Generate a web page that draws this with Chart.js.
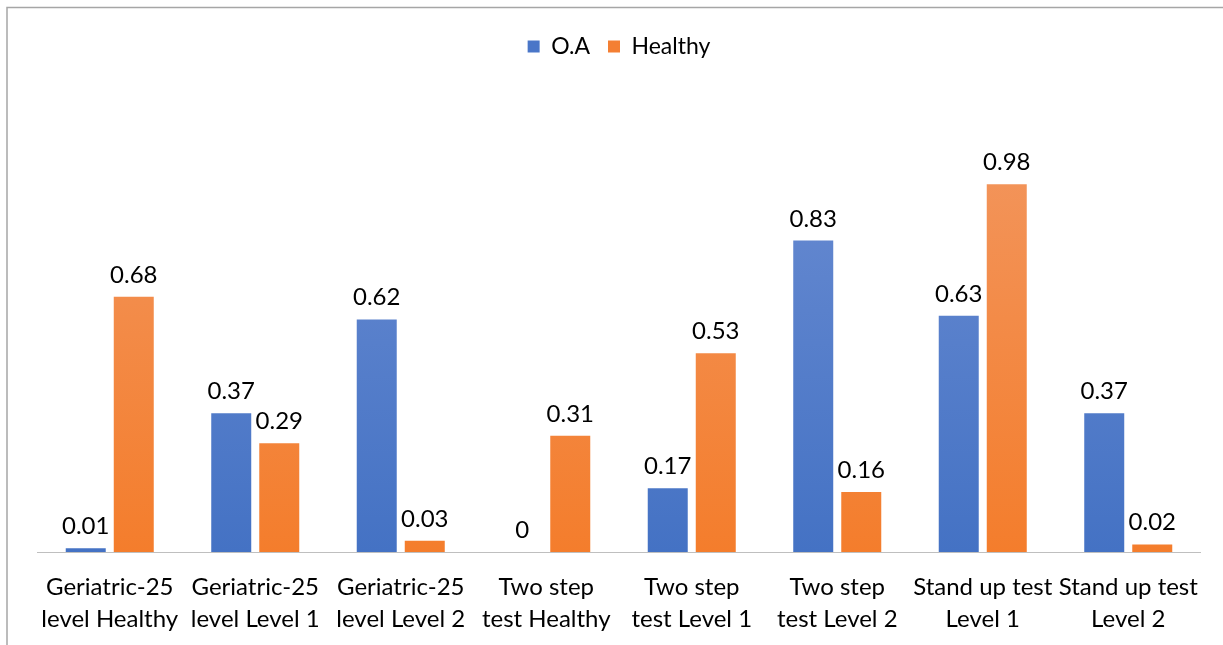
<!DOCTYPE html>
<html>
<head>
<meta charset="utf-8">
<script src="https://cdn.jsdelivr.net/npm/chart.js@4.4.1/dist/chart.umd.min.js"></script>
<style>
  html, body { margin: 0; padding: 0; background: #fff; }
  #wrap { position: relative; width: 1223px; height: 645px; }
</style>
</head>
<body>
<div id="wrap"><canvas id="chart" width="1223" height="645"></canvas></div>
<script>
// Chart data
const categories = [
    ['Geriatric-25', 'level Healthy'],
    ['Geriatric-25', 'level Level 1'],
    ['Geriatric-25', 'level Level 2'],
    ['Two step', 'test Healthy'],
    ['Two step', 'test Level 1'],
    ['Two step', 'test Level 2'],
    ['Stand up test', 'Level 1'],
    ['Stand up test', 'Level 2']
];
const oaValues = [0.01, 0.37, 0.62, 0, 0.17, 0.83, 0.63, 0.37];
const healthyValues = [0.68, 0.29, 0.03, 0.31, 0.53, 0.16, 0.98, 0.02];

const FONT = 'Lato, "Open Sans", sans-serif';

// vertical gradient, lighter at the top of the plot
function gradientFill(top, bottom) {
    return function(context) {
        const chart = context.chart;
        const area = chart.chartArea;
        if (!area) return bottom;
        const g = chart.ctx.createLinearGradient(0, area.top, 0, area.bottom);
        g.addColorStop(0, top);
        g.addColorStop(1, bottom);
        return g;
    };
}

// value labels above each bar
const valueLabels = {
    id: 'valueLabels',
    afterDatasetsDraw(chart) {
        const ctx = chart.ctx;
        ctx.save();
        ctx.font = '24px ' + FONT;
        ctx.fillStyle = '#000';
        ctx.textAlign = 'center';
        ctx.textBaseline = 'alphabetic';
        chart.data.datasets.forEach((ds, i) => {
            chart.getDatasetMeta(i).data.forEach((bar, j) => {
                ctx.fillText(String(ds.data[j]), bar.x, bar.y - 14);
            });
        });
        ctx.restore();
    }
};

// frame lines along top and left, and the category axis line
const frame = {
    id: 'frame',
    beforeDraw(chart) {
        const ctx = chart.ctx;
        ctx.save();
        ctx.fillStyle = '#fff';
        ctx.fillRect(0, 0, chart.width, chart.height);
        ctx.strokeStyle = '#a6a6a6';
        ctx.lineWidth = 1.5;
        ctx.beginPath();
        ctx.moveTo(7, chart.height);
        ctx.lineTo(7, 7.5);
        ctx.lineTo(chart.width, 7.5);
        ctx.stroke();
        ctx.restore();
    },
    afterDatasetsDraw(chart) {
        const ctx = chart.ctx;
        const a = chart.chartArea;
        const y = chart.scales.y.getPixelForValue(0);
        ctx.save();
        ctx.strokeStyle = '#bfbfbf';
        ctx.lineWidth = 1;
        ctx.beginPath();
        ctx.moveTo(a.left, y + 0.5);
        ctx.lineTo(a.right, y + 0.5);
        ctx.stroke();
        ctx.restore();
    }
};

const config = {
    type: 'bar',
    data: {
        labels: categories,
        datasets: [{
            label: 'O.A',
            data: oaValues,
            backgroundColor: gradientFill('#7090d4', '#4472c4'),
            categoryPercentage: 0.66,
            barPercentage: 0.833
        }, {
            label: 'Healthy',
            data: healthyValues,
            backgroundColor: gradientFill('#f29a66', '#f47d2c'),
            categoryPercentage: 0.66,
            barPercentage: 0.833
        }]
    },
    options: {
        responsive: false,
        animation: false,
        layout: {
            padding: { left: 37, right: 22, top: 17, bottom: 0 }
        },
        plugins: {
            legend: {
                position: 'top',
                labels: {
                    font: { family: FONT, size: 23 },
                    color: '#000',
                    boxWidth: 12,
                    boxHeight: 12,
                    padding: 18,
                    generateLabels(chart) {
                        const cols = ['#4a76c8', '#f47f33'];
                        return chart.data.datasets.map((ds, i) => ({
                            text: ds.label,
                            fillStyle: cols[i],
                            strokeStyle: cols[i],
                            lineWidth: 0,
                            datasetIndex: i
                        }));
                    }
                }
            },
            tooltip: { enabled: false }
        },
        scales: {
            x: {
                grid: { display: false, drawTicks: false },
                border: { display: false },
                ticks: {
                    font: { family: FONT, size: 24, lineHeight: 1.3 },
                    color: '#000',
                    padding: 20,
                    maxRotation: 0,
                    autoSkip: false
                },
                afterFit(scale) {
                    scale.height = 93;
                }
            },
            y: {
                display: false,
                min: 0,
                max: 1.29
            }
        }
    },
    plugins: [frame, valueLabels]
};

new Chart(document.getElementById('chart').getContext('2d'), config);
</script>
</body>
</html>
